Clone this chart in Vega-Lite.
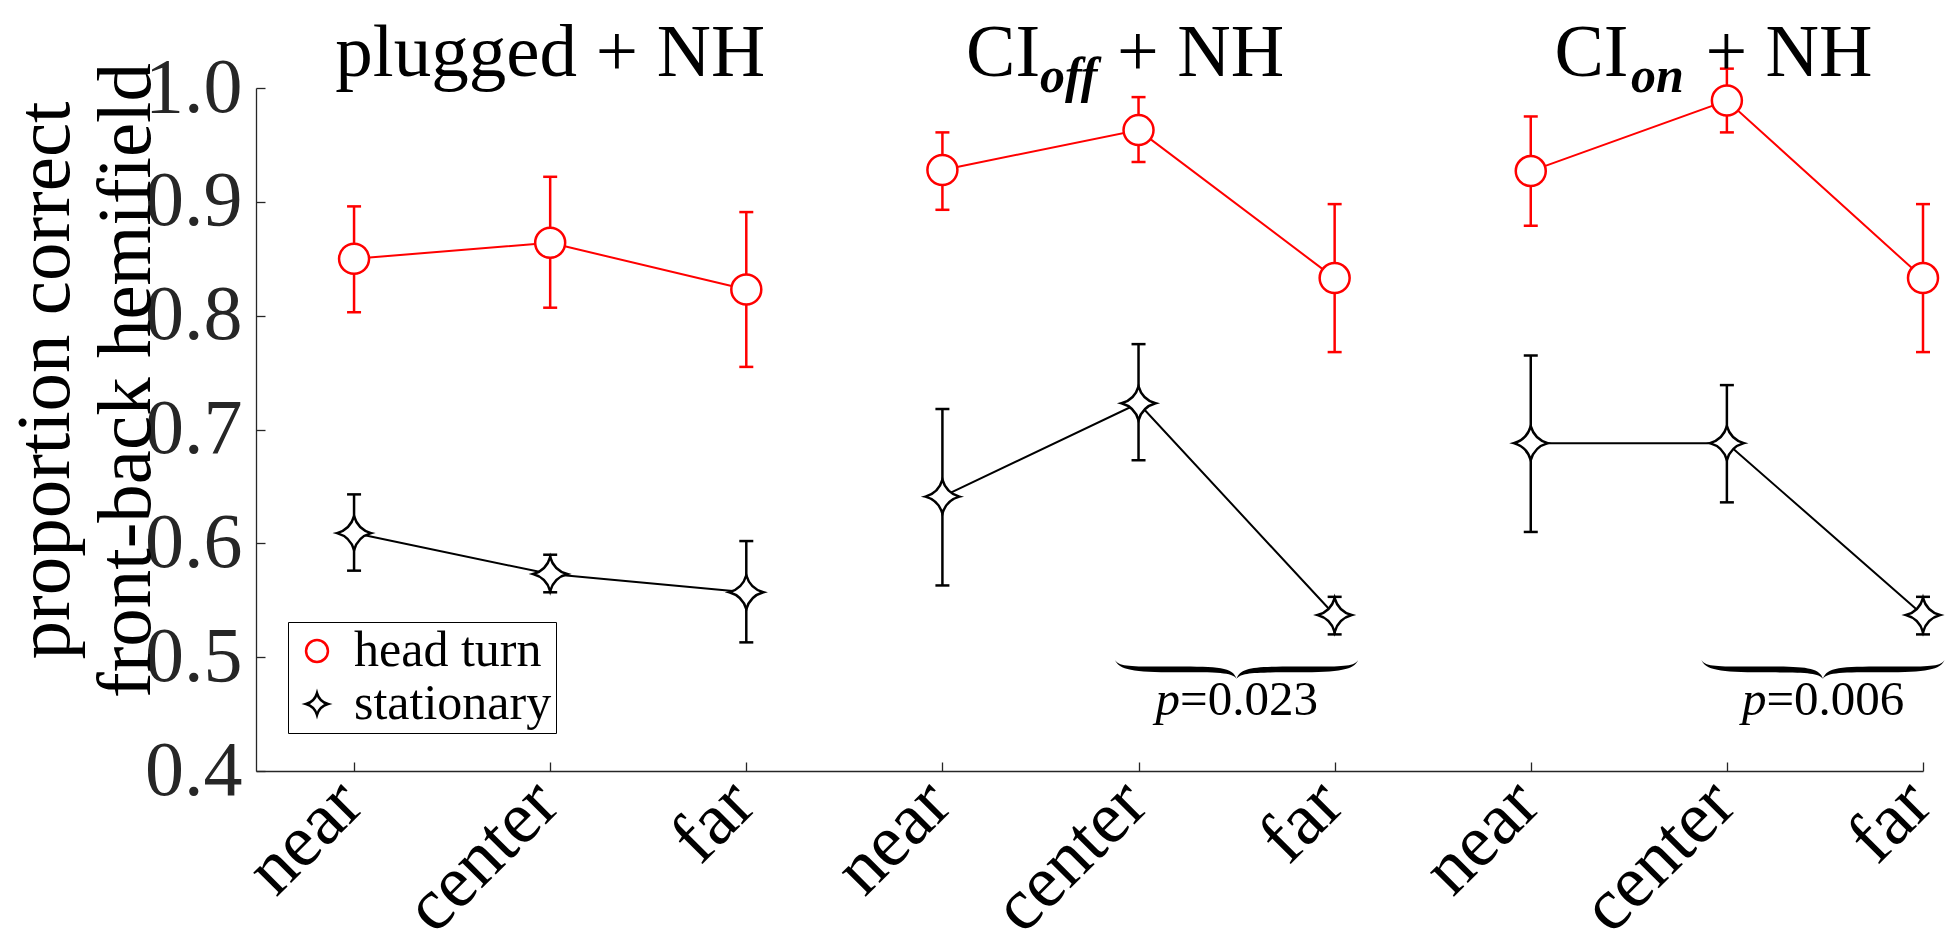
{
  "$schema": "https://vega.github.io/schema/vega-lite/v6.json",
  "width": 1667,
  "height": 683,
  "autosize": {"type": "none"},
  "padding": {"left": 256, "top": 88, "right": 27, "bottom": 177},
  "background": "white",
  "config": {
    "view": {"stroke": null},
    "font": "Liberation Serif",
    "axis": {
      "grid": false,
      "labelFlush": false,
      "labelOverlap": false,
      "labelBound": false,
      "labelLimit": 500,
      "tickColor": "#262626",
      "tickWidth": 1.3,
      "domainColor": "#262626",
      "domainWidth": 1.3
    }
  },
  "datasets": {
    "pts": [
      {"x": 1, "grp": "A", "series": "head turn", "mean": 0.850, "lo": 0.803, "hi": 0.896},
      {"x": 2, "grp": "A", "series": "head turn", "mean": 0.864, "lo": 0.807, "hi": 0.922},
      {"x": 3, "grp": "A", "series": "head turn", "mean": 0.823, "lo": 0.755, "hi": 0.891},
      {"x": 4, "grp": "B", "series": "head turn", "mean": 0.928, "lo": 0.893, "hi": 0.961},
      {"x": 5, "grp": "B", "series": "head turn", "mean": 0.963, "lo": 0.935, "hi": 0.992},
      {"x": 6, "grp": "B", "series": "head turn", "mean": 0.833, "lo": 0.768, "hi": 0.898},
      {"x": 7, "grp": "C", "series": "head turn", "mean": 0.927, "lo": 0.879, "hi": 0.975},
      {"x": 8, "grp": "C", "series": "head turn", "mean": 0.989, "lo": 0.961, "hi": 1.017},
      {"x": 9, "grp": "C", "series": "head turn", "mean": 0.833, "lo": 0.768, "hi": 0.898},
      {"x": 1, "grp": "A", "series": "stationary", "mean": 0.609, "lo": 0.576, "hi": 0.643},
      {"x": 2, "grp": "A", "series": "stationary", "mean": 0.573, "lo": 0.557, "hi": 0.590},
      {"x": 3, "grp": "A", "series": "stationary", "mean": 0.557, "lo": 0.513, "hi": 0.602},
      {"x": 4, "grp": "B", "series": "stationary", "mean": 0.641, "lo": 0.563, "hi": 0.718},
      {"x": 5, "grp": "B", "series": "stationary", "mean": 0.723, "lo": 0.673, "hi": 0.775},
      {"x": 6, "grp": "B", "series": "stationary", "mean": 0.537, "lo": 0.520, "hi": 0.553},
      {"x": 7, "grp": "C", "series": "stationary", "mean": 0.688, "lo": 0.610, "hi": 0.765},
      {"x": 8, "grp": "C", "series": "stationary", "mean": 0.688, "lo": 0.636, "hi": 0.739},
      {"x": 9, "grp": "C", "series": "stationary", "mean": 0.537, "lo": 0.520, "hi": 0.553}
    ],
    "title1": [{"x": 2, "t": "plugged + NH"}],
    "ci": [{"x": 5, "t": "CI"}, {"x": 8, "t": "CI"}],
    "subOff": [{"x": 5, "t": "off"}],
    "subOn": [{"x": 8, "t": "on"}],
    "nh": [{"x": 5, "t": "+ NH"}, {"x": 8, "t": "+ NH"}],
    "pv": [{"x": 5.5, "y": 0.449, "p": "p", "v": "=0.023"}, {"x": 8.49, "y": 0.449, "p": "p", "v": "=0.006"}],
    "brace": [{"x": 5.5, "y": 0.489}, {"x": 8.49, "y": 0.489}]
  },
  "encoding": {
    "x": {
      "field": "x", "type": "quantitative", "title": null,
      "scale": {"domain": [0.5, 9], "nice": false, "zero": false},
      "axis": {
        "values": [1, 2, 3, 4, 5, 6, 7, 8, 9],
        "labelExpr": "['near','center','far'][(datum.value-1)%3]",
        "labelAngle": -45,
        "labelAlign": "right",
        "labelBaseline": "middle",
        "labelFont": "Liberation Serif",
        "labelFontSize": 74,
        "labelColor": "black",
        "tickSize": -9,
        "labelPadding": 30,
        "labelOffset": -4
      }
    }
  },
  "layer": [
    {
      "data": {"name": "pts"},
      "mark": {"type": "line", "strokeWidth": 2, "opacity": 1},
      "encoding": {
        "y": {
          "field": "mean", "type": "quantitative",
          "title": ["proportion correct", "front-back hemifield"],
          "scale": {"domain": [0.4, 1.0], "nice": false, "zero": false},
          "axis": {
            "values": [0.4, 0.5, 0.6, 0.7, 0.8, 0.9, 1.0],
            "format": ".1f",
            "labelFont": "Liberation Serif",
            "labelFontSize": 78,
            "labelColor": "#262626",
            "tickSize": -9,
            "labelPadding": 23,
            "titleFont": "Liberation Serif",
            "titleFontSize": 77,
            "titleFontWeight": "normal",
            "titleColor": "black",
            "titleLineHeight": 81,
            "titleX": -172,
            "titleY": 292
          }
        },
        "stroke": {"field": "series", "type": "nominal", "scale": {"range": ["#ff0000", "#000000"]}, "legend": null},
        "detail": {"field": "grp", "type": "nominal"}
      }
    },
    {
      "data": {"name": "pts"},
      "mark": {"type": "rule", "strokeWidth": 2.5, "opacity": 1},
      "encoding": {
        "y": {"field": "lo", "type": "quantitative", "title": ["proportion correct", "front-back hemifield"]},
        "y2": {"field": "hi"},
        "stroke": {"field": "series", "type": "nominal", "legend": null}
      }
    },
    {
      "data": {"name": "pts"},
      "mark": {"type": "tick", "orient": "horizontal", "size": 14, "thickness": 2.5, "opacity": 1},
      "encoding": {
        "y": {"field": "lo", "type": "quantitative", "title": ["proportion correct", "front-back hemifield"]},
        "fill": {"field": "series", "type": "nominal", "scale": {"range": ["#ff0000", "#000000"]}, "legend": null}
      }
    },
    {
      "data": {"name": "pts"},
      "mark": {"type": "tick", "orient": "horizontal", "size": 14, "thickness": 2.5, "opacity": 1},
      "encoding": {
        "y": {"field": "hi", "type": "quantitative", "title": ["proportion correct", "front-back hemifield"]},
        "fill": {"field": "series", "type": "nominal", "legend": null}
      }
    },
    {
      "data": {"name": "pts"},
      "transform": [{"filter": "datum.series === 'head turn'"}],
      "mark": {"type": "point", "filled": false, "fill": "white", "fillOpacity": 1, "strokeWidth": 2.5, "size": 900, "opacity": 1},
      "encoding": {
        "y": {"field": "mean", "type": "quantitative", "title": ["proportion correct", "front-back hemifield"]},
        "color": {"field": "series", "type": "nominal", "title": null, "scale": {"domain": ["head turn", "stationary"], "range": ["#ff0000", "#000000"]}, "legend": {"orient": "none", "legendX": 32, "legendY": 534, "labelFont": "Liberation Serif", "labelFontSize": 50, "labelLimit": 500, "labelColor": "black", "symbolSize": 480, "symbolStrokeWidth": 2.5, "strokeColor": "black", "padding": 4, "rowPadding": 3, "labelOffset": 12}},
        "shape": {"field": "series", "type": "nominal", "title": null, "scale": {"domain": ["head turn", "stationary"], "range": ["circle", "M0,-1 Q0.22,-0.22 1,0 Q0.22,0.22 0,1 Q-0.22,0.22 -1,0 Q-0.22,-0.22 0,-1 Z"]}, "legend": {"orient": "none", "legendX": 32, "legendY": 534, "labelFont": "Liberation Serif", "labelFontSize": 50, "labelLimit": 500, "labelColor": "black", "symbolSize": 480, "symbolStrokeWidth": 2.5, "strokeColor": "black", "padding": 4, "rowPadding": 3, "labelOffset": 12}}
      }
    },
    {
      "data": {"name": "pts"},
      "transform": [{"filter": "datum.series === 'stationary'"}],
      "mark": {"type": "point", "filled": false, "fill": "white", "fillOpacity": 1, "strokeWidth": 2.5, "size": 1156, "opacity": 1},
      "encoding": {
        "y": {"field": "mean", "type": "quantitative", "title": ["proportion correct", "front-back hemifield"]},
        "color": {"field": "series", "type": "nominal", "title": null},
        "shape": {"field": "series", "type": "nominal", "title": null}
      }
    },
    {
      "data": {"name": "brace"},
      "mark": {"type": "point", "filled": true, "color": "black", "opacity": 1, "size": 59049, "shape": "M-1,-0.08 C-0.97,-0.02 -0.85,-0.026 -0.5,-0.026 C-0.15,-0.026 -0.03,-0.02 0,0.075 C0.03,-0.02 0.15,-0.026 0.5,-0.026 C0.85,-0.026 0.97,-0.02 1,-0.08 C0.97,-0.0 0.85,0.022 0.5,0.022 C0.15,0.022 0.04,0.022 0,0.075 C-0.04,0.022 -0.15,0.022 -0.5,0.022 C-0.85,0.022 -0.97,-0.0 -1,-0.08 Z"},
      "encoding": {
        "y": {"field": "y", "type": "quantitative", "title": ["proportion correct", "front-back hemifield"]}
      }
    },
    {
      "data": {"name": "pv"},
      "mark": {"type": "text", "font": "Liberation Serif", "fontSize": 49, "fontStyle": "italic", "align": "left", "baseline": "alphabetic", "dx": -81, "color": "black"},
      "encoding": {
        "y": {"field": "y", "type": "quantitative", "title": ["proportion correct", "front-back hemifield"]},
        "text": {"field": "p"}
      }
    },
    {
      "data": {"name": "pv"},
      "mark": {"type": "text", "font": "Liberation Serif", "fontSize": 49, "align": "left", "baseline": "alphabetic", "dx": -56.5, "color": "black"},
      "encoding": {
        "y": {"field": "y", "type": "quantitative", "title": ["proportion correct", "front-back hemifield"]},
        "text": {"field": "v"}
      }
    },
    {
      "data": {"name": "title1"},
      "mark": {"type": "text", "font": "Liberation Serif", "fontSize": 75, "align": "center", "baseline": "alphabetic", "dy": -12, "color": "black"},
      "encoding": {
        "y": {"datum": 1.0, "type": "quantitative", "title": ["proportion correct", "front-back hemifield"]},
        "text": {"field": "t"}
      }
    },
    {
      "data": {"name": "ci"},
      "mark": {"type": "text", "font": "Liberation Serif", "fontSize": 74, "align": "left", "baseline": "alphabetic", "dx": -172.5, "dy": -12, "color": "black"},
      "encoding": {
        "y": {"datum": 1.0, "type": "quantitative", "title": ["proportion correct", "front-back hemifield"]},
        "text": {"field": "t"}
      }
    },
    {
      "data": {"name": "subOff"},
      "mark": {"type": "text", "font": "Liberation Serif", "fontSize": 50, "fontStyle": "italic", "fontWeight": "bold", "align": "left", "baseline": "alphabetic", "dx": -98.5, "dy": 4, "color": "black"},
      "encoding": {
        "y": {"datum": 1.0, "type": "quantitative", "title": ["proportion correct", "front-back hemifield"]},
        "text": {"field": "t"}
      }
    },
    {
      "data": {"name": "subOn"},
      "mark": {"type": "text", "font": "Liberation Serif", "fontSize": 50, "fontStyle": "italic", "fontWeight": "bold", "align": "left", "baseline": "alphabetic", "dx": -96, "dy": 4, "color": "black"},
      "encoding": {
        "y": {"datum": 1.0, "type": "quantitative", "title": ["proportion correct", "front-back hemifield"]},
        "text": {"field": "t"}
      }
    },
    {
      "data": {"name": "nh"},
      "mark": {"type": "text", "font": "Liberation Serif", "fontSize": 74, "align": "left", "baseline": "alphabetic", "dx": -21.5, "dy": -12, "color": "black"},
      "encoding": {
        "y": {"datum": 1.0, "type": "quantitative", "title": ["proportion correct", "front-back hemifield"]},
        "text": {"field": "t"}
      }
    }
  ]
}
